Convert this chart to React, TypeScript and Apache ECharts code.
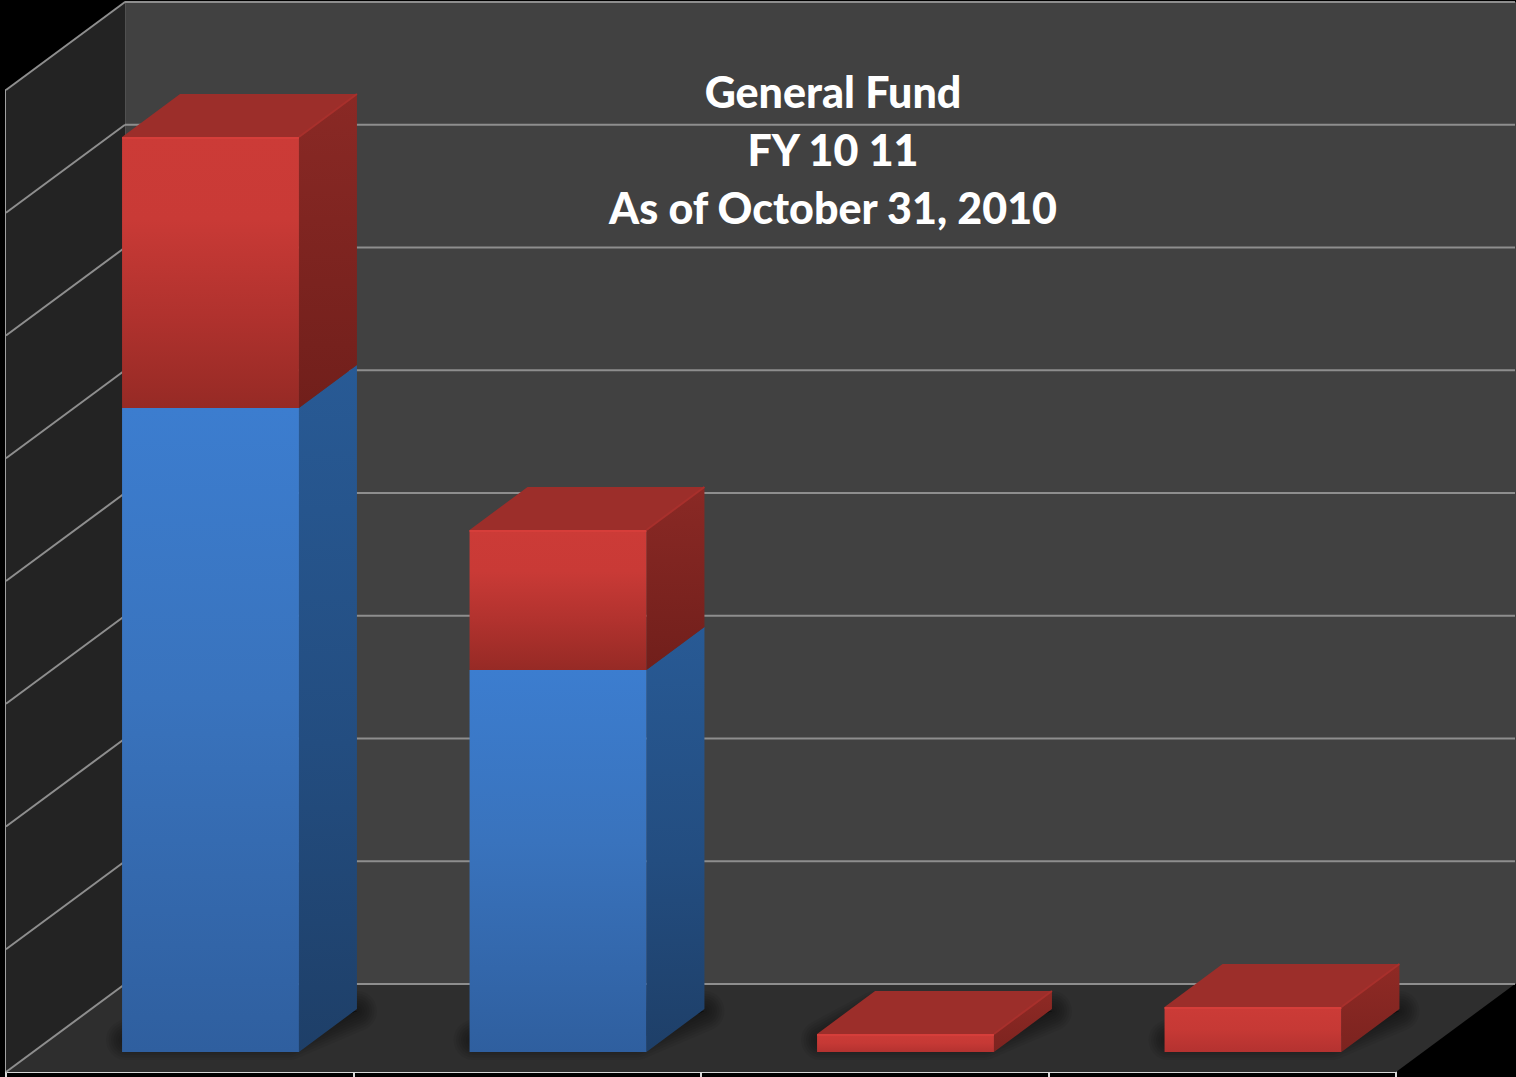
import React, { useEffect, useRef } from "react";
import * as echarts from "echarts";

const categories = ["Item 1", "Item 2", "Item 3", "Item 4"];
const blueValues = [5.246, 3.112, 0, 0];
const redValues = [2.208, 1.141, 0.147, 0.367];
const yTicks = [0, 1, 2, 3, 4, 5, 6, 7, 8];
const titleLines = ["General Fund", "FY 10 11", "As of October 31, 2010"];

const DEPTH_X = 119;
const DEPTH_Y = -88;
const BAR_SHIFT_X = 30.75;
const BAR_SHIFT_Y = -20;
const BAR_DX = 58;
const BAR_DY = -43;
const BAR_RATIO = 0.509;
const GRID_COLOR = "#8e8e8e";
const SHADOW_WIDTHS = [5, 10, 15, 20, 25, 30, 35, 40];

const grad = (stops: [number, string][], x2 = 0, y2 = 1) =>
  new echarts.graphic.LinearGradient(0, 0, x2, y2, stops.map(([offset, color]) => ({ offset, color })));

function barFrame(api: any, idx: number, from: number, to: number) {
  const bottom = api.coord([idx, from]);
  const top = api.coord([idx, to]);
  const w = api.size([1, 0])[0] * BAR_RATIO;
  const x0 = bottom[0] + BAR_SHIFT_X - w / 2;
  return { x0, x1: x0 + w, yb: bottom[1] + BAR_SHIFT_Y, yt: top[1] + BAR_SHIFT_Y };
}

function renderWalls(params: any) {
  const { x, y, width, height } = params.coordSys;
  const b = y + height;
  return {
    type: "group",
    children: [
      {
        type: "polygon",
        shape: { points: [[x, y], [x + DEPTH_X, y + DEPTH_Y], [x + DEPTH_X, b + DEPTH_Y], [x, b]] },
        style: { fill: "#232323" },
      },
      {
        type: "polygon",
        shape: { points: [[x, b], [x + DEPTH_X, b + DEPTH_Y], [x + width + DEPTH_X, b + DEPTH_Y], [x + width, b]] },
        style: { fill: "#2e2e2e" },
      },
    ],
  };
}

function renderWallLine(params: any, api: any) {
  const x = params.coordSys.x;
  const y = api.coord([0, api.value(1)])[1];
  return {
    type: "line",
    shape: { x1: x, y1: y, x2: x + DEPTH_X, y2: y + DEPTH_Y },
    style: { stroke: GRID_COLOR, lineWidth: 2 },
  };
}

function renderBackLine(params: any, api: any) {
  const { x, width } = params.coordSys;
  const y = api.coord([0, api.value(1)])[1] + DEPTH_Y;
  return {
    type: "line",
    shape: { x1: x + DEPTH_X, y1: y, x2: x + width + DEPTH_X, y2: y },
    style: { stroke: GRID_COLOR, lineWidth: 2 },
  };
}

function renderShadow(_params: any, api: any) {
  const idx = api.value(0);
  const f = barFrame(api, idx, 0, 0);
  const points = [
    [f.x0 + 4, f.yb - 12],
    [f.x1 - 10, f.yb - 12],
    [f.x1 + BAR_DX, f.yb + BAR_DY + 2],
    [f.x0 + BAR_DX, f.yb + BAR_DY + 2],
  ];
  return {
    type: "group",
    children: SHADOW_WIDTHS.map((lineWidth) => ({
      type: "polygon",
      shape: { points },
      style: { fill: "rgba(0,0,0,0.06)", stroke: "rgba(0,0,0,0.06)", lineWidth, lineJoin: "round" },
    })),
  };
}

function renderBlue(_params: any, api: any) {
  const idx = api.value(0);
  const from = api.value(1);
  const to = api.value(2);
  if (to <= from) return { type: "group", children: [] };
  const f = barFrame(api, idx, from, to);
  return {
    type: "group",
    children: [
      {
        type: "polygon",
        shape: {
          points: [
            [f.x1, f.yb],
            [f.x1 + BAR_DX, f.yb + BAR_DY],
            [f.x1 + BAR_DX, f.yt + BAR_DY],
            [f.x1, f.yt],
          ],
        },
        style: { fill: grad([[0, "#285a95"], [0.55, "#234d80"], [1, "#1e3f68"]]) },
      },
      {
        type: "rect",
        shape: { x: f.x0, y: f.yt, width: f.x1 - f.x0, height: f.yb - f.yt },
        style: { fill: grad([[0, "#3c7dcf"], [0.45, "#3973bd"], [1, "#2f5f9f"]]) },
      },
    ],
  };
}

function renderRed(_params: any, api: any) {
  const idx = api.value(0);
  const from = api.value(1);
  const to = api.value(2);
  const f = barFrame(api, idx, from, to);
  const short = f.yb - f.yt < 60;
  const frontStops: [number, string][] = short
    ? [[0, "#cc3b37"], [0.5, "#c63935"], [1, "#b43230"]]
    : [[0, "#cc3b37"], [0.3, "#c93a36"], [0.65, "#b1322e"], [1, "#962a25"]];
  return {
    type: "group",
    children: [
      {
        type: "polygon",
        shape: {
          points: [
            [f.x1, f.yb],
            [f.x1 + BAR_DX, f.yb + BAR_DY],
            [f.x1 + BAR_DX, f.yt + BAR_DY],
            [f.x1, f.yt],
          ],
        },
        style: { fill: grad([[0, short ? "#8f2a25" : "#8a2925"], [1, short ? "#7c231f" : "#711f1b"]]) },
      },
      {
        type: "polygon",
        shape: {
          points: [
            [f.x0, f.yt],
            [f.x0 + BAR_DX, f.yt + BAR_DY],
            [f.x1 + BAR_DX, f.yt + BAR_DY],
            [f.x1, f.yt],
          ],
        },
        style: { fill: "#9c2e2a" },
      },
      {
        type: "rect",
        shape: { x: f.x0, y: f.yt, width: f.x1 - f.x0, height: f.yb - f.yt },
        style: { fill: grad(frontStops) },
      },
      {
        type: "line",
        shape: { x1: f.x0, y1: f.yt + 1, x2: f.x1, y2: f.yt + 1 },
        style: { stroke: "#d63e3a", lineWidth: 2 },
      },
      {
        type: "line",
        shape: { x1: f.x1, y1: f.yt, x2: f.x1 + BAR_DX, y2: f.yt + BAR_DY },
        style: { stroke: "#a8302c", lineWidth: 2 },
      },
    ],
  };
}

export default function App() {
  const ref = useRef<HTMLDivElement>(null);

  useEffect(() => {
    document.body.style.margin = "0";
    document.body.style.background = "#000";
    const chart = echarts.init(ref.current!, undefined, { renderer: "svg" });
    const idxData = categories.map((_, i) => [i]);
    chart.setOption({
      animation: false,
      backgroundColor: "#000",
      title: {
        text: titleLines.join("\n"),
        left: 828,
        top: 57,
        textAlign: "center",
        textStyle: {
          color: "#ffffff",
          fontFamily: "Lato",
          fontWeight: 900,
          fontSize: 43,
          lineHeight: 58,
        },
      },
      grid: [
        { left: 6, right: 120, top: 90, bottom: 5, containLabel: false },
        {
          left: 125,
          right: 0,
          top: 2,
          bottom: 93,
          show: true,
          backgroundColor: "#414141",
          borderWidth: 0,
        },
      ],
      xAxis: [
        {
          type: "category",
          gridIndex: 0,
          data: categories,
          axisLine: { show: true, lineStyle: { color: "#d8d8d8", width: 2 } },
          axisTick: { show: true, length: 5, lineStyle: { color: "#d8d8d8", width: 2 } },
          axisLabel: { show: false },
        },
        { type: "category", gridIndex: 1, data: categories, show: false },
      ],
      yAxis: [
        {
          type: "value",
          gridIndex: 0,
          min: 0,
          max: 8,
          interval: 1,
          axisLine: { show: true, lineStyle: { color: "#a0a0a0", width: 2 } },
          axisTick: { show: false },
          axisLabel: { show: false },
          splitLine: { show: false },
        },
        {
          type: "value",
          gridIndex: 1,
          min: 0,
          max: 8,
          interval: 1,
          axisLine: { show: true, lineStyle: { color: "#505050", width: 2 } },
          axisTick: { show: false },
          axisLabel: { show: false },
          splitLine: { show: false },
        },
      ],
      series: [
        { type: "custom", name: "walls", z: 1, silent: true, clip: false, xAxisIndex: 0, yAxisIndex: 0, data: [[0]], renderItem: renderWalls },
        { type: "custom", name: "back grid", z: 2, silent: true, clip: false, xAxisIndex: 0, yAxisIndex: 0, data: yTicks.map((v) => [0, v]), renderItem: renderBackLine },
        { type: "custom", name: "wall grid", z: 2, silent: true, clip: false, xAxisIndex: 0, yAxisIndex: 0, data: yTicks.map((v) => [0, v]), renderItem: renderWallLine },
        { type: "custom", name: "shadow", z: 3, silent: true, clip: false, xAxisIndex: 0, yAxisIndex: 0, data: idxData, renderItem: renderShadow },
        {
          type: "custom",
          name: "Blue",
          z: 4,
          clip: false,
          xAxisIndex: 0,
          yAxisIndex: 0,
          data: blueValues.map((v, i) => [i, 0, v]),
          renderItem: renderBlue,
        },
        {
          type: "custom",
          name: "Red",
          z: 5,
          clip: false,
          xAxisIndex: 0,
          yAxisIndex: 0,
          data: redValues.map((v, i) => [i, blueValues[i], blueValues[i] + v]),
          renderItem: renderRed,
        },
      ],
    });
    return () => chart.dispose();
  }, []);

  return <div ref={ref} style={{ position: "absolute", left: 0, top: 0, width: 1516, height: 1077 }} />;
}
